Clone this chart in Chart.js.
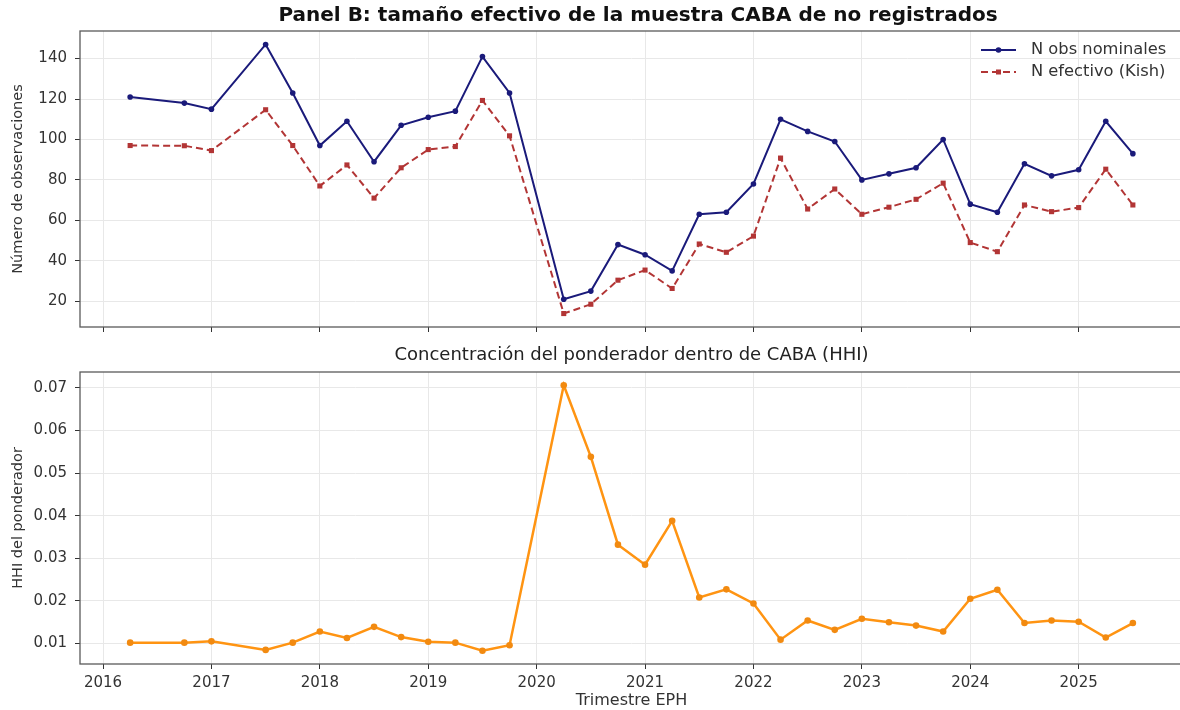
<!DOCTYPE html>
<html>
<head>
<meta charset="utf-8">
<script src="https://cdn.jsdelivr.net/npm/chart.js@4.4.1/dist/chart.umd.min.js"></script>
<style>
  html, body { margin: 0; padding: 0; background: #fff; overflow: hidden; width: 1180px; height: 710px; }
  canvas { position: absolute; left: 0; }
  #top { top: 0; }
  #bottom { top: 340px; }
</style>
</head>
<body>
<canvas id="top" width="1190" height="340"></canvas>
<canvas id="bottom" width="1190" height="370"></canvas>
<script>
// trimestres EPH (año + fracción del trimestre)
const quarters = [2016.25, 2016.75, 2017.0, 2017.5, 2017.75, 2018.0, 2018.25, 2018.5, 2018.75, 2019.0,
  2019.25, 2019.5, 2019.75, 2020.25, 2020.5, 2020.75, 2021.0, 2021.25, 2021.5, 2021.75,
  2022.0, 2022.25, 2022.5, 2022.75, 2023.0, 2023.25, 2023.5, 2023.75, 2024.0, 2024.25,
  2024.5, 2024.75, 2025.0, 2025.25, 2025.5];

const nominal = [121, 118, 115, 147, 123, 97, 109, 89, 107, 111,
  114, 141, 123, 21, 25, 48, 43, 35, 63, 64,
  78, 110, 104, 99, 80, 83, 86, 100, 68, 64,
  88, 82, 85, 109, 93];

const kish = [97, 96.9, 94.5, 114.7, 97, 77, 87.4, 71, 86, 95,
  96.5, 119.3, 101.8, 13.9, 18.5, 30.4, 35.4, 26.3, 48.3, 44.2,
  52.2, 90.8, 65.6, 75.5, 63, 66.5, 70.4, 78.4, 49, 44.5,
  67.6, 64.3, 66.3, 85.3, 67.6];

const hhi = [0.0102, 0.0102, 0.0105, 0.0085, 0.0102, 0.0128, 0.0113, 0.0139, 0.0115, 0.0104,
  0.0102, 0.0083, 0.0096, 0.0706, 0.0538, 0.0332, 0.0285, 0.0388, 0.0208, 0.0227,
  0.0194, 0.0109, 0.0154, 0.0132, 0.0158, 0.0150, 0.0142, 0.0128, 0.0205, 0.0226,
  0.0148, 0.0154, 0.0151, 0.0114, 0.0148];

const yearTicks = [2016, 2017, 2018, 2019, 2020, 2021, 2022, 2023, 2024, 2025];
const obsTicks = [20, 40, 60, 80, 100, 120, 140];
const hhiTicks = [0.01, 0.02, 0.03, 0.04, 0.05, 0.06, 0.07];

Chart.defaults.font.family = "'DejaVu Sans', sans-serif";
Chart.defaults.color = '#333';
Chart.defaults.animation = false;

// margen tipo matplotlib (5%)
function pad(arr) {
  const lo = Math.min(...arr), hi = Math.max(...arr);
  const m = (hi - lo) * 0.05;
  return [lo - m, hi + m];
}
const xr = pad(quarters);
const yTop = pad(nominal.concat(kish));
const yBot = pad(hhi);

const points = (ys) => quarters.map((q, i) => ({ x: q, y: ys[i] }));

const frame = {
  id: 'frame',
  afterDraw(chart) {
    const { ctx, chartArea: a } = chart;
    ctx.save();
    ctx.strokeStyle = '#5a5a5a';
    ctx.lineWidth = 1.3;
    ctx.strokeRect(a.left, a.top, a.right - a.left, a.bottom - a.top);
    ctx.restore();
  }
};

// título colocado a mano (centro x, centro y)
const panelTitle = {
  id: 'panelTitle',
  afterDraw(chart, args, opts) {
    const ctx = chart.ctx;
    ctx.save();
    ctx.font = opts.font;
    ctx.fillStyle = opts.color;
    ctx.textAlign = 'center';
    ctx.textBaseline = 'middle';
    ctx.fillText(opts.text, opts.x, opts.y);
    ctx.restore();
  }
};

// leyenda con línea + marcador, como matplotlib
const lineLegend = {
  id: 'lineLegend',
  afterDraw(chart) {
    const ctx = chart.ctx;
    chart.data.datasets.forEach((ds, i) => {
      const y = 50 + i * 22;
      const x0 = 981, x1 = 1016;
      ctx.save();
      ctx.strokeStyle = ds.borderColor;
      ctx.lineWidth = ds.borderWidth;
      ctx.setLineDash(ds.borderDash || []);
      ctx.beginPath();
      ctx.moveTo(x0, y);
      ctx.lineTo(x1, y);
      ctx.stroke();
      ctx.setLineDash([]);
      ctx.fillStyle = ds.pointBackgroundColor;
      const xm = (x0 + x1) / 2;
      if (ds.pointStyle === 'rect') {
        ctx.fillRect(xm - 2.5, y - 2.5, 5, 5);
      } else {
        ctx.beginPath();
        ctx.arc(xm, y, ds.pointRadius, 0, Math.PI * 2);
        ctx.fill();
      }
      ctx.fillStyle = '#333';
      ctx.font = "16.3px 'DejaVu Sans'";
      ctx.textBaseline = 'middle';
      ctx.fillText(ds.label, 1031, y);
      ctx.restore();
    });
  }
};

function xAxis(showLabels, height) {
  return {
    type: 'linear',
    min: xr[0],
    max: xr[1],
    afterBuildTicks: (scale) => { scale.ticks = yearTicks.map(v => ({ value: v })); },
    afterFit: (scale) => { scale.height = height; },
    grid: { color: '#e8e8e8', tickColor: '#333', tickLength: 5, lineWidth: 1 },
    border: { display: false },
    ticks: {
      display: showLabels,
      padding: 5,
      font: { size: 15 },
      color: '#333',
      maxRotation: 0,
      callback: (v) => String(v)
    },
    title: showLabels ? {
      display: true,
      text: 'Trimestre EPH',
      font: { size: 16 },
      color: '#333',
      padding: { top: 0, bottom: 0 }
    } : { display: false }
  };
}

function yAxis(range, ticks, label, fmt) {
  return {
    min: range[0],
    max: range[1],
    afterBuildTicks: (scale) => { scale.ticks = ticks.map(v => ({ value: v })); },
    afterFit: (scale) => {
      scale.width = 80;
      scale.paddingTop = 0;
      scale.paddingBottom = 0;
    },
    grid: { color: '#e8e8e8', tickColor: '#333', tickLength: 5, lineWidth: 1 },
    border: { display: false },
    ticks: { padding: 8, font: { size: 15 }, color: '#333', callback: fmt },
    title: {
      display: true,
      text: label,
      font: { size: 14.5 },
      color: '#333',
      padding: { top: 10, bottom: 0 }
    }
  };
}

const topConfig = {
  type: 'line',
  data: {
    datasets: [{
      label: 'N obs nominales',
      data: points(nominal),
      borderColor: '#1a1a7a',
      backgroundColor: '#1a1a7a',
      pointBackgroundColor: '#1a1a7a',
      pointBorderWidth: 0,
      borderWidth: 2,
      pointRadius: 2.8,
      pointStyle: 'circle',
      tension: 0
    }, {
      label: 'N efectivo (Kish)',
      data: points(kish),
      borderColor: '#b23535',
      backgroundColor: '#b23535',
      pointBackgroundColor: '#b23535',
      pointBorderWidth: 0,
      borderWidth: 2,
      borderDash: [7, 4],
      pointRadius: 3.6,
      pointStyle: 'rect',
      tension: 0
    }]
  },
  options: {
    responsive: false,
    layout: { padding: { left: 0, right: 7, top: 31, bottom: 0 } },
    plugins: {
      legend: { display: false },
      tooltip: { enabled: false },
      title: { display: false },
      panelTitle: {
        text: 'Panel B: tamaño efectivo de la muestra CABA de no registrados',
        font: "bold 20px 'DejaVu Sans'",
        color: '#111',
        x: 638,
        y: 16
      }
    },
    scales: {
      x: xAxis(false, 13),
      y: yAxis(yTop, obsTicks, 'Número de observaciones', (v) => String(v))
    }
  },
  plugins: [frame, lineLegend, panelTitle]
};

const bottomConfig = {
  type: 'line',
  data: {
    datasets: [{
      label: 'HHI',
      data: points(hhi),
      borderColor: '#ff9412',
      backgroundColor: '#f28a10',
      pointBackgroundColor: '#f28a10',
      pointBorderWidth: 0,
      borderWidth: 2.5,
      pointRadius: 3.3,
      tension: 0
    }]
  },
  options: {
    responsive: false,
    layout: { padding: { left: 0, right: 7, top: 32, bottom: 0 } },
    plugins: {
      legend: { display: false },
      tooltip: { enabled: false },
      title: { display: false },
      panelTitle: {
        text: 'Concentración del ponderador dentro de CABA (HHI)',
        font: "18px 'DejaVu Sans'",
        color: '#222',
        x: 631.5,
        y: 15
      }
    },
    scales: {
      x: xAxis(true, 46),
      y: yAxis(yBot, hhiTicks, 'HHI del ponderador', (v) => v.toFixed(2))
    }
  },
  plugins: [frame, panelTitle]
};

new Chart(document.getElementById('top').getContext('2d'), topConfig);
new Chart(document.getElementById('bottom').getContext('2d'), bottomConfig);
</script>
</body>
</html>
